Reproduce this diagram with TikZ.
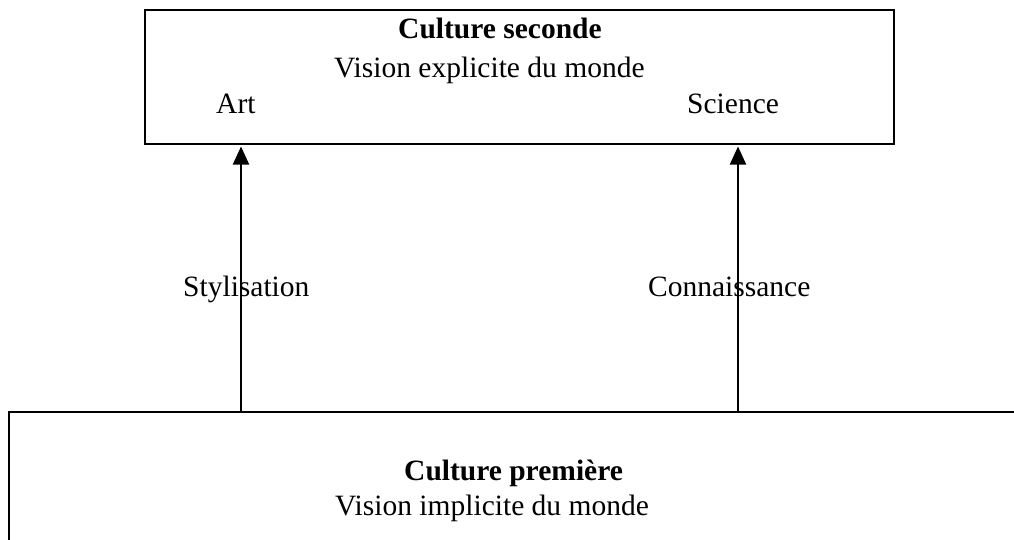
\documentclass[tikz,border=0pt]{standalone}
\usepackage{fontspec}
\setmainfont{Liberation Serif}
\usetikzlibrary{arrows.meta}
\begin{document}
\begin{tikzpicture}[x=1pt,y=-1pt,
  frame/.style={draw=black, line width=2pt, inner sep=0pt, anchor=north west},
  txt/.style={inner sep=0pt, anchor=base west, font=\fontsize{29.5}{35}\selectfont},
  bold/.style={txt, font=\fontsize{29.5}{35}\selectfont\bfseries},
  uparrow/.style={draw=black, line width=2pt, shorten >=1.5pt,
    -{Triangle[length=18pt,width=16pt]}}]
\useasboundingbox (0,0) rectangle (1014,539);
\clip (0,0) rectangle (1014,539);

% upper frame: culture seconde
\node[frame, minimum width=749pt, minimum height=134pt] (top) at (144,9) {};
\node[bold] (cs) at (398,38) {Culture seconde};
\node[txt] (ve) at (334,77) {Vision explicite du monde};
\node[txt] (art) at (216,113) {Art};
\node[txt] (sci) at (687,113) {Science};

% lower frame: culture première (runs off the page)
\node[frame, minimum width=1040pt, minimum height=200pt] (bottom) at (8,411) {};
\node[bold] (cp) at (404,480) {Culture première};
\node[txt] (vi) at (335,515) {Vision implicite du monde};

% arrow labels
\node[txt] (sty) at (183,296) {Stylisation};
\node[txt] (con) at (648,296) {Connaissance};

% connectors
\coordinate (xa) at (241,0);
\coordinate (xs) at (738,0);
\draw[uparrow] (xa |- bottom.north) -- (xa |- top.south);
\draw[uparrow] (xs |- bottom.north) -- (xs |- top.south);
\end{tikzpicture}
\end{document}
